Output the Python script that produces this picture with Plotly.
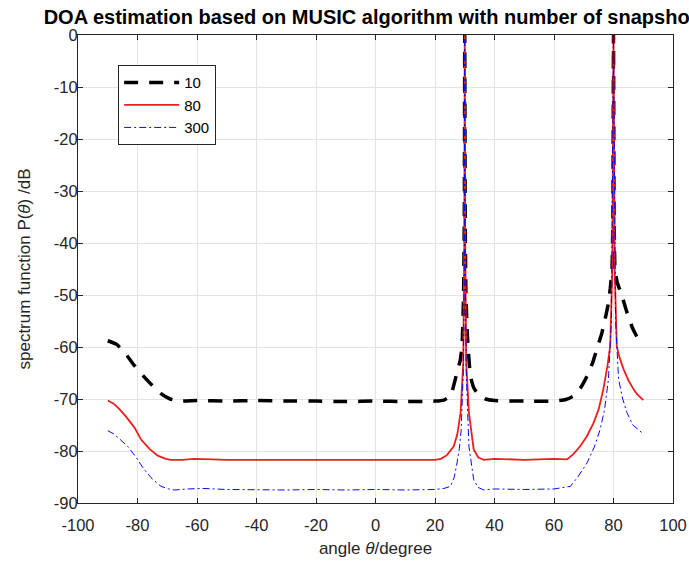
import plotly.graph_objects as go

# ---- data ----
theta_10 = [-90, -87, -84, -81, -78, -75, -72, -69, -66, -60, -50, -40, -30, -20, -10, 0, 10, 20, 23, 25.2,
            27.4, 28.5, 29.1, 29.6, 29.85, 30, 30.15, 30.4, 30.9, 31.9, 33, 34.7, 37, 40, 50, 60, 64, 66.6,
            69, 71.1, 73, 74.4, 76, 77.2, 78.2, 78.9, 79.5, 79.8, 80, 80.2, 80.5, 81.2, 82.8, 84.5, 86.5, 88.4, 90]
p_10 = [-58.8, -59.5, -61.3, -63.6, -65.6, -67.4, -69.0, -70.0, -70.4, -70.3, -70.4, -70.3, -70.4, -70.4, -70.5,
        -70.4, -70.5, -70.4, -70.2, -69.4, -64.9, -62.5, -59.8, -50, -35, 0, -35, -50, -58, -65.6, -67.8, -69.3,
        -70.0, -70.3, -70.4, -70.4, -70.1, -69.4, -67.8, -65.6, -63.0, -60.4, -57.5, -54.6, -51.8, -48.8, -45,
        -35, 0, -35, -45, -47.5, -50.1, -53.3, -56.5, -58.5, -59.0]

theta_80 = [-90, -88, -86, -84, -81, -78.8, -76, -73.2, -70.5, -68.8, -65, -60.9, -55, -50, -40, -30, -20, -10,
            0, 10, 20, 22, 24, 26.3, 27.5, 28.6, 29.5, 29.85, 30, 30.15, 30.5, 31.4, 32.2, 33, 34.5, 36.4, 40,
            50, 60, 64.4, 66.5, 68.8, 71, 73.3, 75, 76.6, 78, 78.9, 79.6, 80, 80.4, 81.1, 82, 83.4, 85, 86.7,
            88, 90]
p_80 = [-70.3, -70.9, -72.0, -73.3, -75.5, -77.8, -79.6, -80.9, -81.5, -81.7, -81.7, -81.5, -81.6, -81.7,
        -81.7, -81.7, -81.7, -81.6, -81.7, -81.6, -81.7, -81.5, -80.8, -79.1, -76.8, -72.6, -63, -40, 0, -40,
        -63, -72.6, -76.8, -79.7, -81.2, -81.7, -81.5, -81.7, -81.5, -81.6, -80.6, -79.1, -77.2, -74.6, -72.0,
        -68.1, -63.5, -59.8, -45, 0, -45, -59.8, -62, -64.3, -66.4, -68.1, -69.1, -70.2]

theta_300 = [-90, -88, -86, -83.3, -80.5, -77.7, -75, -72.1, -69.5, -67.6, -63, -58, -50, -40, -30, -20, -10,
             0, 10, 20, 23, 25.2, 26.5, 27.4, 28.2, 28.8, 29.5, 29.85, 30, 30.15, 30.5, 31.4, 32.2, 33, 34.5,
             36.4, 40, 50, 60, 65.5, 68, 71.1, 73.5, 75.5, 77, 78.3, 79.3, 80, 80.7, 81.7, 83, 84.5, 86.5, 88, 90]
p_300 = [-76.1, -76.7, -77.7, -79.1, -81.2, -83.6, -85.4, -86.8, -87.3, -87.5, -87.3, -87.2, -87.4, -87.5,
         -87.5, -87.4, -87.5, -87.4, -87.5, -87.4, -87.2, -86.8, -85.0, -82.3, -79.5, -75.9, -65, -45, 0, -45,
         -65, -79.1, -82.8, -85.5, -87.0, -87.5, -87.3, -87.4, -87.3, -86.8, -85.0, -82.3, -79.3, -75.9, -72,
         -66.2, -55, 0, -55, -66.2, -69.8, -72.6, -75.0, -75.8, -76.7]

series_names = ["10", "80", "300"]
x_ticks = [-100, -80, -60, -40, -20, 0, 20, 40, 60, 80, 100]
y_ticks = [-90, -80, -70, -60, -50, -40, -30, -20, -10, 0]

FONT = "Liberation Sans, Arial, Helvetica, sans-serif"
AX = "#262626"

fig = go.Figure()
fig.add_trace(go.Scatter(x=theta_10, y=p_10, mode="lines", name=series_names[0], line_shape="spline",
                         line=dict(color="black", width=3.5, dash="14px,11px", smoothing=0.4)))
fig.add_trace(go.Scatter(x=theta_80, y=p_80, mode="lines", name=series_names[1],
                         line=dict(color="rgb(238,30,30)", width=1.8)))
fig.add_trace(go.Scatter(x=theta_300, y=p_300, mode="lines", name=series_names[2],
                         line=dict(color="rgb(10,10,240)", width=1, dash="7px,3px,2px,3px")))

axis_common = dict(showline=True, linecolor=AX, linewidth=1, mirror="ticks",
                   ticks="inside", ticklen=5, tickcolor=AX, tickwidth=1,
                   showgrid=True, gridcolor="#e3e3e3", gridwidth=1, zeroline=False,
                   automargin=False,
                   tickfont=dict(family=FONT, size=16.5, color=AX))

fig.update_xaxes(range=[-100, 100], tickvals=x_ticks, ticktext=[str(v) for v in x_ticks],
                 ticklabelstandoff=7,
                 title=dict(text="angle <i>θ</i>/degree", font=dict(family=FONT, size=17, color=AX), standoff=9),
                 **axis_common)
fig.update_yaxes(range=[-90, 0], tickvals=y_ticks, ticktext=[str(v) for v in y_ticks],
                 ticklabelstandoff=-4,
                 title=dict(text="spectrum function P(<i>θ</i>) /dB", font=dict(family=FONT, size=17, color=AX), standoff=18),
                 **axis_common)

fig.update_layout(
    width=689, height=563,
    margin=dict(l=77.5, r=16, t=35, b=60),
    paper_bgcolor="white", plot_bgcolor="white",
    title=dict(text="<b>DOA estimation based on MUSIC algorithm with number of snapshots</b>",
               x=0.5, xref="paper", xanchor="center", y=1 - 17 / 563, yref="container", yanchor="middle",
               font=dict(family=FONT, size=20, color="black")),
    legend=dict(x=0.0675, y=0.9355, xanchor="left", yanchor="top",
                bgcolor="white", bordercolor=AX, borderwidth=1,
                font=dict(family=FONT, size=15, color="black"),
                itemwidth=55, tracegroupgap=0),
    showlegend=True,
)

fig.write_html("out.html", config={"displayModeBar": False},
               post_script="document.body.style.margin='0px';document.body.style.overflow='hidden';")
